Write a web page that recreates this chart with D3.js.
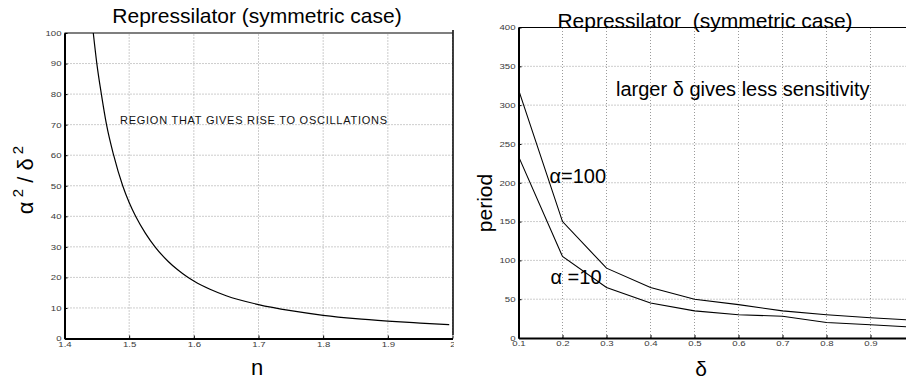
<!DOCTYPE html>
<html><head><meta charset="utf-8">
<script src="https://cdn.jsdelivr.net/npm/d3@7"></script>
<style>
body{margin:0;background:#fff;}
svg{display:block;font-family:"Liberation Sans",Arial,Helvetica,sans-serif;background:#fff;}
</style>
</head><body>
<svg id="c" width="906" height="381"></svg>
<script>
// ---- Left panel: boundary of oscillation region ----
const nValues     = [1.4445, 1.45, 1.457, 1.465, 1.476, 1.49, 1.5, 1.51, 1.525, 1.54, 1.56, 1.575, 1.589, 1.6, 1.625, 1.65, 1.7, 1.75, 1.8, 1.85, 1.9, 1.95, 1.995];
const ratioValues = [100, 90, 80, 70, 60, 50, 44.5, 40, 34.5, 30, 25.3, 22.5, 20.3, 18.8, 16.1, 14.0, 11.1, 9.1, 7.6, 6.5, 5.7, 5.05, 4.5];
const nTicks      = [1.4, 1.5, 1.6, 1.7, 1.8, 1.9, 2];
const ratioTicks  = [0, 10, 20, 30, 40, 50, 60, 70, 80, 90, 100];

// ---- Right panel: period vs delta ----
const deltaValues    = [0.1, 0.2, 0.3, 0.4, 0.5, 0.6, 0.7, 0.8, 0.9, 1.0];
const periodAlpha100 = [320, 150, 90, 65, 50, 43, 35, 30, 26, 23];
const periodAlpha10  = [234, 105, 65, 45, 35, 30, 28, 20, 17, 14];
const deltaTicks     = [0.1, 0.2, 0.3, 0.4, 0.5, 0.6, 0.7, 0.8, 0.9];
const periodTicks    = [0, 50, 100, 150, 200, 250, 300, 350, 400];

const svg = d3.select("#c");
const gridColor = "#9a9a9a";
const tickColor = "#3a3a3a";

function stretchTicks(g){
  g.selectAll(".tick text").each(function(){
    const w = this.getComputedTextLength();
    d3.select(this).attr("textLength", w*1.28).attr("lengthAdjust","spacingAndGlyphs");
  });
}

function panel(g, x, y, xTicks, yTicks, xFmt, yFmt, topY, rightX){
  const [x0,x1] = x.range(), [y0,y1] = y.range();
  // grid
  g.append("g").selectAll("line").data(xTicks.slice(1)).join("line")
    .attr("x1", d=>x(d)).attr("x2", d=>x(d)).attr("y1", y0).attr("y2", y1)
    .attr("stroke", gridColor).attr("stroke-width", 1).attr("stroke-dasharray","1,2");
  g.append("g").selectAll("line").data(yTicks.slice(1, -1)).join("line")
    .attr("x1", x0).attr("x2", x1).attr("y1", d=>y(d)).attr("y2", d=>y(d))
    .attr("stroke", gridColor).attr("stroke-width", 1).attr("stroke-dasharray","1,2");
  // top frame
  g.append("line").attr("x1", x0).attr("x2", rightX).attr("y1", topY).attr("y2", topY)
    .attr("stroke","#000").attr("stroke-width",1.2);
  // axes
  const ax = g.append("g").attr("transform", `translate(0,${y0})`)
    .call(d3.axisBottom(x).tickValues(xTicks).tickFormat(xFmt).tickSizeInner(-3).tickSizeOuter(0).tickPadding(3));
  const ay = g.append("g").attr("transform", `translate(${x0},0)`)
    .call(d3.axisLeft(y).tickValues(yTicks).tickFormat(yFmt).tickSizeInner(-3).tickSizeOuter(0).tickPadding(3));
  [ax, ay].forEach(a=>{
    a.select(".domain").attr("stroke","#000").attr("stroke-width",2);
    a.selectAll(".tick line").attr("stroke","#000");
    a.selectAll(".tick text").attr("fill", tickColor).attr("font-size", 7.5)
      .attr("font-family",'"Liberation Sans",Arial,sans-serif');
    stretchTicks(a);
  });
  ax.selectAll(".tick text").attr("dy","0.71em");
  return {ax, ay};
}

// ---------- LEFT ----------
const defs = svg.append("defs");
defs.append("clipPath").attr("id","leftClip").append("rect")
  .attr("x",0).attr("y",0).attr("width",454).attr("height",381);
defs.append("clipPath").attr("id","leftPlot").append("rect")
  .attr("x",64.5).attr("y",33).attr("width",388).attr("height",305.5);

const xL = d3.scaleLinear([1.4, 2], [64.5, 452.5]);
const yL = d3.scaleLinear([0, 100], [338.5, 33]);
const gL = svg.append("g").attr("clip-path","url(#leftClip)");
panel(gL, xL, yL, nTicks, ratioTicks, d=>d3.format("")(d), d=>d, 33, 452.5);
// right border
gL.append("line").attr("x1",453).attr("x2",453).attr("y1",30).attr("y2",335)
  .attr("stroke","#000").attr("stroke-width",1.5);

gL.append("path").datum(nValues.map((n,i)=>[n, ratioValues[i]]))
  .attr("clip-path","url(#leftPlot)")
  .attr("fill","none").attr("stroke","#000").attr("stroke-width",1.2)
  .attr("d", d3.line().x(d=>xL(d[0])).y(d=>yL(d[1])).curve(d3.curveMonotoneX));

gL.append("text").attr("x",257).attr("y",23).attr("text-anchor","middle")
  .attr("font-size",21).text("Repressilator (symmetric case)");
gL.append("text").attr("x",120).attr("y",124).attr("font-size",11)
  .attr("textLength",267).attr("lengthAdjust","spacing").attr("fill","#111")
  .text("REGION THAT GIVES RISE TO OSCILLATIONS");
gL.append("text").attr("x",257).attr("y",375).attr("text-anchor","middle")
  .attr("font-size",22).text("n");
const yl = gL.append("text").attr("transform","translate(33,180) rotate(-90)")
  .attr("text-anchor","middle").attr("font-size",22);
yl.append("tspan").text("α");
yl.append("tspan").attr("dy",-10).attr("font-size",15).text(" 2");
yl.append("tspan").attr("dy",10).text(" /  δ");
yl.append("tspan").attr("dy",-10).attr("font-size",15).text(" 2");

// ---------- RIGHT ----------
const xR = d3.scaleLinear([0.1, 1], [518.5, 914.5]);
const yR = d3.scaleLinear([0, 400], [338, 27.5]);
const gR = svg.append("g");
panel(gR, xR, yR, deltaTicks, periodTicks, d=>d3.format("")(d), d=>d, 27.5, 914.5);

const lineR = d3.line().x(d=>xR(d[0])).y(d=>yR(d[1]));
[periodAlpha100, periodAlpha10].forEach(s=>{
  gR.append("path").datum(deltaValues.map((d,i)=>[d, s[i]]))
    .attr("fill","none").attr("stroke","#000").attr("stroke-width",1.1).attr("d", lineR);
});

gR.append("text").attr("x",705).attr("y",28).attr("text-anchor","middle")
  .attr("font-size",21).style("white-space","pre")
  .text("Repressilator  (symmetric case)");
gR.append("text").attr("x",616).attr("y",96).attr("font-size",20)
  .text("larger δ gives less sensitivity");
gR.append("text").attr("x",549.5).attr("y",182.5).attr("font-size",20).text("α=100");
gR.append("text").attr("x",550.5).attr("y",284).attr("font-size",20)
  .style("white-space","pre").text("α =10");
gR.append("text").attr("x",701).attr("y",376).attr("text-anchor","middle")
  .attr("font-size",21).text("δ");
gR.append("text").attr("transform","translate(492,203) rotate(-90)")
  .attr("text-anchor","middle").attr("font-size",21).text("period");
</script>
</body></html>
